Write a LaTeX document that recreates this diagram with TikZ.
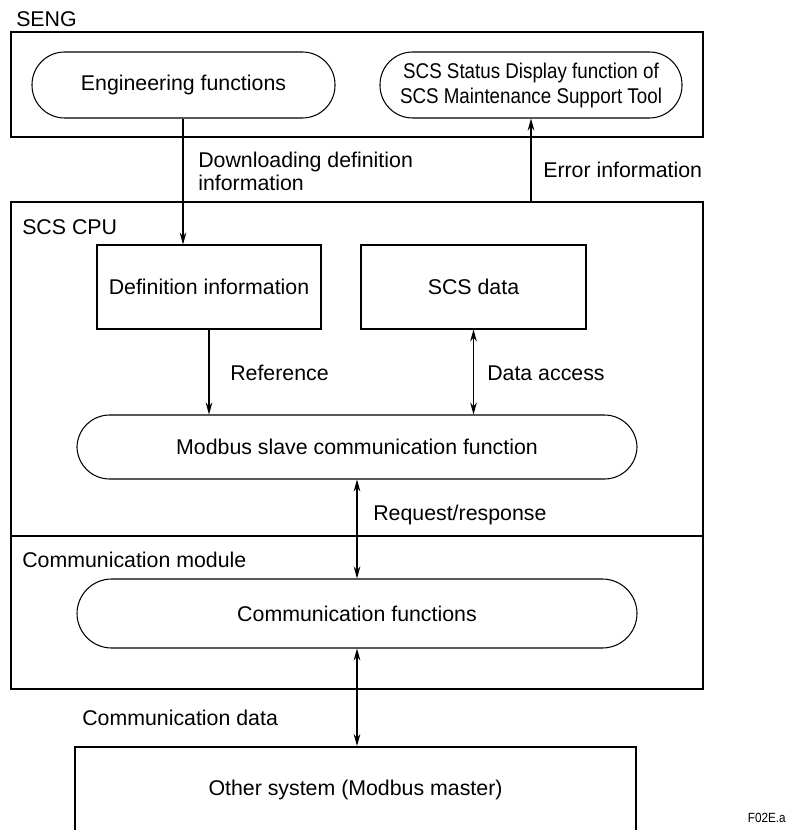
\documentclass[tikz,border=0pt]{standalone}
\usepackage{fontspec}
\setmainfont{Liberation Sans}
\newfontfamily\narrowsans[FakeStretch=0.88]{Liberation Sans}
\usetikzlibrary{arrows.meta,fit}
\begin{document}
\begin{tikzpicture}[x=0.75pt,y=-0.75pt,
  font=\fontsize{16}{19}\selectfont,
  frame/.style={draw, line width=1.5pt, inner sep=0pt},
  blk/.style={draw, line width=0.8pt, inner sep=0pt},
  pill/.style={blk, rounded corners=24.5pt},
  txt/.style={inner sep=0pt, align=center},
  arr/.style={line width=0.8pt, -{Stealth[length=9pt,width=5pt]}},
  darr/.style={line width=0.8pt, {Stealth[length=9pt,width=5pt]}-{Stealth[length=9pt,width=5pt]}},
  lbl/.style={anchor=west, inner sep=0pt, align=left}]
\useasboundingbox (0,0) rectangle (789,830);
% frames
\node[frame, fit={(11,32) (703,137)}] (seng) {};
\node[frame, fit={(11,202) (703,536)}] (cpu) {};
\node[frame, fit={(11,536) (703,689)}] (cm) {};
\node[lbl] (sengl) at (16,19) {SENG};
\node[lbl] (cpul) at (22,227) {SCS CPU};
\node[lbl] (cml) at (22,560) {Communication module};
% inner elements
\node[pill, fit={(32,52) (335,118)}] (eng) {};
\node[txt] at (eng.center) {Engineering functions};
\node[pill, fit={(380,52) (682,118)}] (stat) {};
\node[txt, font=\narrowsans\fontsize{16}{18.75}\selectfont] at (stat.center) {SCS Status Display function of\\SCS Maintenance Support Tool};
\node[blk, fit={(97,245) (321,329)}] (def) {};
\node[txt] at (def.center) {Definition information};
\node[blk, fit={(361,245) (586,329)}] (data) {};
\node[txt] at (data.center) {SCS data};
\node[pill, fit={(77,415) (637,479)}] (mod) {};
\node[txt] at (mod.center) {Modbus slave communication function};
\node[pill, fit={(77,579) (637,648)}, rounded corners=26pt] (comf) {};
\node[txt] at (comf.center) {Communication functions};
\node[frame, fit={(75,747) (636,840)}] (other) {};
\node[txt] (otherl) at (355.5,790) {Other system (Modbus master)};
\node[anchor=east, inner sep=0pt, font=\narrowsans\fontsize{10}{11}\selectfont] (fig) at (786,818) {F02E.a};
% connectors
\coordinate (dlx) at (183,0);
\draw[arr] (eng.south -| dlx) -- (def.north -| dlx);
\draw[arr] (cpu.north -| stat.south) -- (stat.south);
\draw[arr] (def.south) -- (def.south |- mod.north);
\draw[darr] (data.south) -- (data.south |- mod.north);
\draw[darr] (mod.south) -- (comf.north);
\draw[darr] (comf.south) -- (comf.south |- other.north);
% labels
\node[lbl, font=\fontsize{16}{17.25}\selectfont] (dll) at (198,171.5) {Downloading definition\\information};
\node[lbl] (errl) at (543,170) {Error information};
\node[lbl] (refl) at (230,373) {Reference};
\node[lbl] (dal) at (487,373) {Data access};
\node[lbl] (rrl) at (373,515) {Request/response};
\node[lbl] (cdl) at (82,718) {Communication data};
\end{tikzpicture}
\end{document}
